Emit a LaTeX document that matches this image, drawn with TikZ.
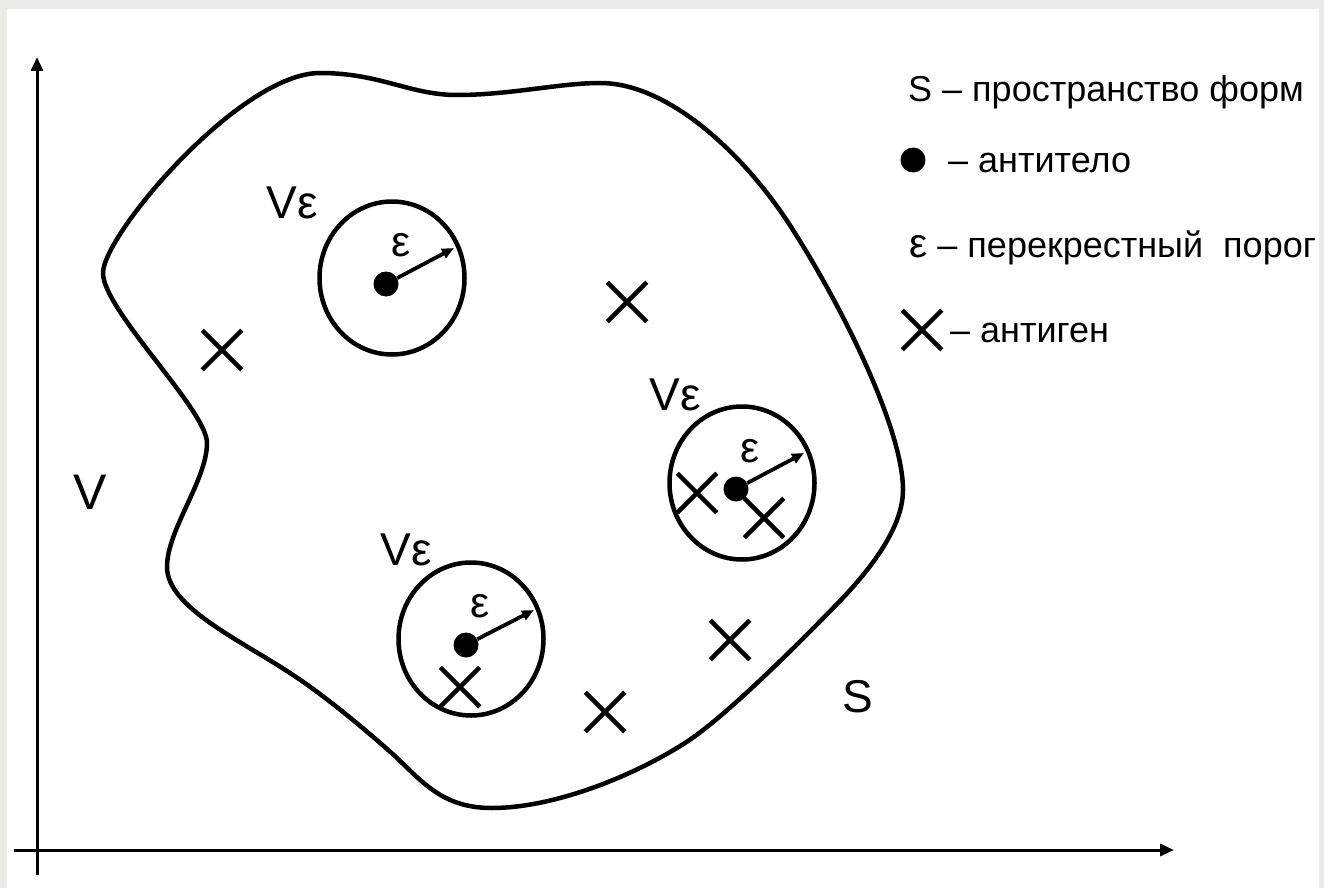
\documentclass[tikz,border=0pt]{standalone}
\usepackage{fontspec}
\setmainfont{Liberation Sans}
\usetikzlibrary{arrows.meta,shapes.geometric,shapes.misc}
\definecolor{framegray}{RGB}{235,235,232}
\begin{document}
\begin{tikzpicture}[x=1pt,y=-1pt,
  blob/.style={line width=4.5pt, line join=round},
  zone/.style={draw, ellipse, line width=4.5pt, minimum width=145pt, minimum height=153pt, inner sep=0pt},
  dotmark/.style={circle, fill=black, minimum size=25pt, inner sep=0pt},
  xmark/.style={cross out, draw, line width=4.5pt, minimum size=35pt, inner sep=0pt},
  radiusarrow/.style={line width=3.8pt, -{Triangle[length=12pt,width=10pt]}},
  axisline/.style={line width=3pt, -{Triangle[length=14pt,width=12pt]}},
  lbl/.style={inner sep=0pt, font=\fontsize{46}{50}\selectfont},
  epslbl/.style={inner sep=0pt, font=\fontsize{43}{48}\selectfont},
  legend/.style={inner sep=0pt, anchor=base west, font=\fontsize{36}{40}\selectfont}
]
\fill[framegray] (0,0) rectangle (1324,888);
\fill[white] (7,9) rectangle (1319,888);
\useasboundingbox (0,0) rectangle (1324,888);

% axes
\coordinate (ybot) at (37,875);
\coordinate (ytip) at (37,57);
\coordinate (xleft) at (14,850);
\coordinate (xtip) at (1174,850);
\draw[axisline] (ybot) -- (ytip);
\draw[axisline] (xleft) -- (xtip);

% shape space
\draw[blob] (103,273)
  .. controls (103,235) and (240,73) .. (320,73)
  .. controls (380,73) and (410,95) .. (457,95)
  .. controls (510,95) and (560,83) .. (600,83)
  .. controls (670,83) and (747,157) .. (793,230)
  .. controls (844,310) and (903,430) .. (903,490)
  .. controls (903,530) and (866,574) .. (838,603)
  .. controls (803,639) and (727,716) .. (685,743)
  .. controls (630,778) and (552,808) .. (492,808)
  .. controls (445,808) and (425,785) .. (396,757)
  .. controls (366,730) and (324,695) .. (290,673)
  .. controls (240,640) and (167,607) .. (167,567)
  .. controls (167,530) and (207,480) .. (207,443)
  .. controls (207,410) and (103,310) .. (103,273) -- cycle;

% zones
\node[zone] (z1) at (392,278) {};
\node[zone] (z2) at (742,483) {};
\node[zone] (z3) at (471,639) {};

% antibodies
\node[dotmark] (d1) at (386,284) {};
\node[dotmark] (d2) at (736,489) {};
\node[dotmark] (d3) at (466,645) {};
\coordinate (t1) at (454,248);
\coordinate (t2) at (804,453);
\coordinate (t3) at (534,610);
\draw[radiusarrow] (d1) -- (t1);
\draw[radiusarrow] (d2) -- (t2);
\draw[radiusarrow] (d3) -- (t3);

% epsilon labels
\node[epslbl] (e1) at (401,245) {ε};
\node[epslbl] (e2) at (750,451) {ε};
\node[epslbl] (e3) at (480,606) {ε};

% antigens
\node[xmark] (a1) at (222,350) {};
\node[xmark] (a2) at (627,302) {};
\node[xmark] (a3) at (697,493) {};
\node[xmark] (a4) at (764,518) {};
\node[xmark] (a5) at (460,687) {};
\node[xmark] (a6) at (605,712) {};
\node[xmark] (a7) at (730,640) {};

% labels
\node[lbl] (v1) at (292,203) {Vε};
\node[lbl] (v2) at (675,395) {Vε};
\node[lbl] (v3) at (406,550) {Vε};
\node[lbl, font=\fontsize{50}{54}\selectfont] (vaxis) at (90,492) {V};
\node[lbl] (slbl) at (858,697) {S};

% legend
\node[legend] (l1) at (908,102) {S – пространство форм};
\node[dotmark] (ldot) at (913,160) {};
\node[legend] (l2) at (948,172) {– антитело};
\node[legend] (l3) at (909,257) {{\fontsize{41}{44}\selectfont ε} – перекрестный~~порог};
\node[xmark] (lx) at (922,330) {};
\node[legend] (l4) at (950,342) {– антиген};
\end{tikzpicture}
\end{document}
